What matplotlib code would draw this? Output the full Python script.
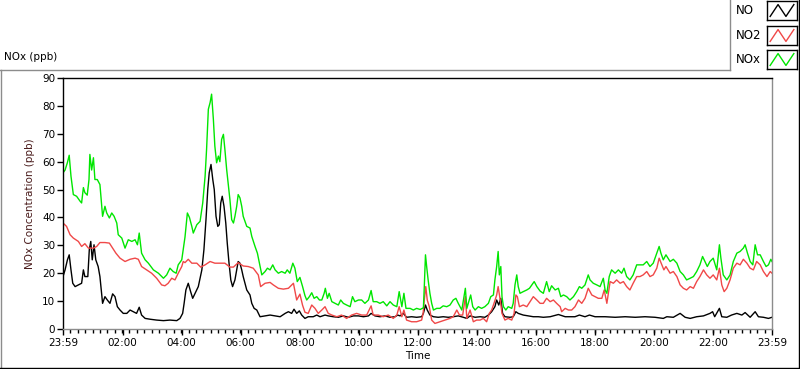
import numpy as np
import matplotlib
matplotlib.use("Agg")
import matplotlib.pyplot as plt
from matplotlib.lines import Line2D

plt.rcParams['font.family'] = ['DejaVu Sans']

# time axis: hours after 23:59 of the previous day
t_nox = [0.00, 0.07, 0.15, 0.21, 0.27, 0.35, 0.46, 0.58, 0.63, 0.69, 0.74, 0.82, 0.88, 0.91, 0.97,
         1.03, 1.08, 1.16, 1.25, 1.31, 1.34, 1.42, 1.48, 1.57, 1.65, 1.73, 1.82, 1.87, 1.99, 2.10,
         2.21, 2.33, 2.44, 2.52, 2.58, 2.66, 2.78, 2.89, 3.06, 3.23, 3.40, 3.51, 3.62, 3.73, 3.83,
         3.90, 4.02, 4.13, 4.21, 4.28, 4.36, 4.41, 4.53, 4.64, 4.73, 4.81, 4.86, 4.92, 4.98, 5.03,
         5.09, 5.14, 5.20, 5.26, 5.31, 5.37, 5.43, 5.48, 5.54, 5.60, 5.65, 5.71, 5.77, 5.82, 5.88,
         5.93, 5.99, 6.05, 6.10, 6.22, 6.33, 6.39, 6.50, 6.58, 6.67, 6.73, 6.84, 6.92, 7.01, 7.10,
         7.18, 7.29, 7.40, 7.52, 7.59, 7.68, 7.78, 7.85, 7.93, 8.02, 8.11, 8.19, 8.25, 8.34, 8.42,
         8.50, 8.59, 8.68, 8.76, 8.84, 8.88, 8.95, 9.01, 9.10, 9.21, 9.32, 9.40, 9.49, 9.60, 9.72,
         9.80, 9.88, 10.00, 10.11, 10.22, 10.34, 10.43, 10.50, 10.62, 10.73, 10.84, 10.96, 11.07,
         11.18, 11.30, 11.38, 11.47, 11.54, 11.61, 11.75, 11.86, 11.97, 12.09, 12.20, 12.23, 12.27,
         12.31, 12.36, 12.42, 12.48, 12.54, 12.65, 12.76, 12.87, 12.99, 13.10, 13.21, 13.30, 13.38,
         13.50, 13.62, 13.67, 13.72, 13.80, 13.87, 13.95, 14.06, 14.17, 14.28, 14.40, 14.48, 14.57,
         14.62, 14.68, 14.73, 14.77, 14.82, 14.86, 14.91, 14.99, 15.07, 15.19, 15.24, 15.30, 15.36,
         15.41, 15.47, 15.58, 15.70, 15.79, 15.87, 15.95, 16.04, 16.15, 16.26, 16.37, 16.46, 16.54,
         16.66, 16.77, 16.85, 16.94, 17.05, 17.16, 17.28, 17.39, 17.48, 17.56, 17.67, 17.78, 17.84,
         17.95, 18.07, 18.18, 18.29, 18.35, 18.41, 18.49, 18.57, 18.69, 18.80, 18.91, 18.99, 19.08,
         19.19, 19.30, 19.42, 19.53, 19.64, 19.76, 19.87, 19.98, 20.10, 20.18, 20.24, 20.32, 20.41,
         20.55, 20.66, 20.78, 20.89, 21.00, 21.11, 21.23, 21.34, 21.45, 21.56, 21.65, 21.73, 21.81,
         21.90, 22.01, 22.13, 22.22, 22.27, 22.35, 22.47, 22.58, 22.69, 22.81, 22.92, 23.03, 23.09,
         23.17, 23.26, 23.35, 23.43, 23.51, 23.60, 23.71, 23.80, 23.88, 23.96, 24.00]
nox = [56.0, 57.0, 59.7, 62.3, 54.8, 48.2, 47.6, 45.8, 45.2, 50.7, 48.9, 48.0, 53.6, 62.6, 57.0,
       61.4, 53.6, 53.6, 51.8, 44.0, 40.4, 44.0, 41.6, 39.8, 41.6, 40.4, 38.0, 33.8, 32.6, 29.0,
       32.0, 31.4, 32.0, 30.2, 34.4, 27.2, 24.8, 23.6, 21.2, 20.0, 18.2, 19.4, 21.8, 20.6, 20.0,
       23.0, 24.8, 33.0, 41.6, 40.0, 36.8, 34.4, 37.4, 38.6, 45.2, 54.8, 64.4, 78.8, 81.2, 84.2,
       75.2, 65.6, 59.6, 62.0, 60.0, 68.0, 69.8, 64.4, 57.2, 51.2, 46.4, 39.2, 38.0, 40.4, 44.0,
       48.2, 47.0, 44.0, 40.4, 36.8, 36.2, 33.2, 29.6, 27.2, 22.4, 19.4, 20.6, 21.8, 21.2, 23.0,
       21.2, 20.0, 20.6, 20.0, 21.2, 20.0, 23.6, 21.8, 17.0, 18.5, 15.2, 12.0, 10.4, 11.6, 13.0,
       11.0, 11.6, 10.4, 10.4, 12.8, 14.6, 11.0, 12.8, 9.8, 9.2, 8.6, 10.4, 9.2, 8.6, 8.0,
       11.6, 9.8, 10.4, 10.4, 9.2, 10.4, 13.8, 9.8, 9.8, 9.2, 9.8, 8.3, 9.8,
       8.6, 8.0, 13.4, 8.0, 12.8, 7.4, 7.4, 6.8, 7.4, 7.0, 7.6, 15.2, 26.6,
       22.4, 17.6, 12.8, 9.2, 6.8, 7.4, 7.4, 8.3, 8.0, 8.6, 10.4, 11.0, 9.2,
       6.8, 14.6, 7.4, 9.2, 12.2, 8.0, 6.8, 8.0, 7.4, 8.0, 9.2, 11.6, 12.2,
       17.6, 22.4, 27.8, 19.4, 22.4, 11.6, 8.0, 6.8, 8.0, 7.4, 9.2, 15.8, 19.4,
       15.2, 12.8, 13.4, 14.0, 14.6, 15.8, 17.0, 15.2, 13.6, 12.8, 17.0, 13.4, 15.5,
       14.0, 14.6, 11.6, 12.2, 11.6, 10.4, 11.6, 13.4, 15.2, 14.6, 15.8, 19.4, 17.6,
       16.4, 15.8, 15.2, 18.2, 14.0, 12.8, 18.8, 21.2, 20.0, 21.2, 20.0, 21.8, 18.8,
       17.6, 19.4, 23.0, 23.0, 23.0, 24.2, 22.4, 23.6, 27.2, 29.6, 27.2, 24.8, 26.6,
       24.2, 25.0, 23.6, 20.6, 19.4, 17.6, 18.2, 18.8, 20.6, 23.0, 26.0, 24.2, 22.4,
       24.2, 25.4, 21.2, 30.2, 25.4, 19.4, 17.6, 19.4, 24.2, 27.2, 27.8, 29.0, 30.2,
       27.2, 24.2, 23.0, 30.2, 26.6, 26.6, 24.2, 22.4, 23.0, 25.0, 24.2]

t_no2 = [0.00, 0.12, 0.24, 0.35, 0.52, 0.63, 0.74, 0.86, 1.03, 1.14, 1.25, 1.42, 1.57, 1.68, 1.79,
         1.93, 2.10, 2.27, 2.44, 2.55, 2.66, 2.83, 3.00, 3.17, 3.34, 3.45, 3.56, 3.68, 3.79, 3.90,
         4.02, 4.07, 4.13, 4.24, 4.36, 4.53, 4.66, 4.81, 4.98, 5.14, 5.31, 5.48, 5.65, 5.77, 5.93,
         6.10, 6.27, 6.44, 6.61, 6.69, 6.84, 7.01, 7.12, 7.29, 7.46, 7.63, 7.80, 7.91, 8.02, 8.11,
         8.19, 8.30, 8.42, 8.53, 8.64, 8.76, 8.87, 8.98, 9.10, 9.27, 9.43, 9.60, 9.77, 9.94, 10.11,
         10.28, 10.43, 10.50, 10.67, 10.84, 11.01, 11.18, 11.30, 11.38, 11.47, 11.54, 11.63, 11.80,
         11.97, 12.14, 12.19, 12.23, 12.28, 12.33, 12.40, 12.48, 12.59, 12.76, 12.93, 13.10, 13.21,
         13.33, 13.42, 13.53, 13.62, 13.67, 13.78, 13.89, 14.00, 14.12, 14.23, 14.34, 14.43, 14.51,
         14.59, 14.68, 14.73, 14.80, 14.86, 14.96, 15.07, 15.19, 15.27, 15.33, 15.38, 15.45, 15.58,
         15.70, 15.81, 15.92, 16.04, 16.15, 16.26, 16.37, 16.49, 16.60, 16.71, 16.83, 16.88, 17.00,
         17.11, 17.22, 17.33, 17.45, 17.56, 17.67, 17.78, 17.90, 18.01, 18.12, 18.24, 18.32, 18.41,
         18.52, 18.63, 18.74, 18.86, 18.97, 19.08, 19.19, 19.30, 19.42, 19.53, 19.64, 19.76, 19.87,
         19.98, 20.10, 20.18, 20.27, 20.34, 20.41, 20.55, 20.66, 20.78, 20.89, 21.00, 21.11, 21.23,
         21.34, 21.45, 21.56, 21.68, 21.79, 21.90, 22.01, 22.13, 22.22, 22.30, 22.38, 22.47, 22.58,
         22.69, 22.81, 22.92, 23.03, 23.15, 23.26, 23.37, 23.48, 23.60, 23.71, 23.83, 23.94, 24.00]
no2 = [38.0, 36.8, 33.8, 32.6, 31.4, 29.6, 30.6, 29.0, 29.0, 29.6, 31.0, 31.0, 30.8, 29.0, 27.2,
       25.4, 24.2, 25.0, 25.4, 25.0, 22.4, 21.2, 20.0, 18.2, 15.8, 15.5, 16.4, 18.2, 17.6, 20.0,
       22.4, 24.2, 23.8, 25.0, 23.6, 23.6, 22.2, 23.0, 24.2, 23.6, 23.6, 23.6, 22.2, 22.2, 23.8,
       22.6, 22.4, 21.8, 19.4, 15.2, 16.4, 16.7, 15.8, 14.6, 14.3, 14.6, 16.4, 10.4, 12.5, 8.5,
       6.0, 5.6, 8.6, 7.4, 5.6, 6.8, 8.0, 5.6, 5.0, 4.4, 5.0, 3.8, 5.0, 5.6, 5.0,
       5.0, 8.3, 5.0, 5.0, 4.4, 5.0, 3.8, 5.0, 8.0, 4.4, 6.8, 3.2, 2.6,
       2.6, 3.2, 5.6, 10.4, 15.2, 10.4, 8.0, 3.2, 2.0, 2.6, 3.2, 3.8, 4.4,
       6.8, 5.0, 5.0, 11.6, 3.8, 6.8, 2.6, 3.2, 3.2, 3.8, 2.6, 5.6, 6.8,
       9.2, 12.2, 15.2, 10.4, 5.6, 3.2, 3.8, 3.2, 5.6, 12.2, 11.6, 8.0, 8.6,
       8.0, 9.8, 11.6, 10.4, 9.2, 9.2, 11.0, 9.8, 10.4, 9.2, 8.0, 6.2, 7.4,
       6.8, 6.8, 8.0, 10.4, 9.2, 11.0, 14.6, 12.2, 11.6, 11.0, 11.0, 14.0, 9.2,
       17.0, 16.4, 17.6, 16.4, 17.0, 15.2, 14.0, 16.4, 18.8, 18.8, 19.4, 20.6, 18.8,
       19.4, 21.8, 25.4, 23.0, 21.2, 22.4, 20.0, 20.6, 18.8, 15.8, 14.6, 14.0, 15.2,
       14.6, 17.0, 18.8, 21.2, 19.4, 18.2, 19.4, 17.6, 21.8, 15.8, 13.4, 14.6, 17.6,
       21.8, 23.6, 23.0, 25.0, 23.6, 21.8, 21.2, 24.2, 23.0, 20.6, 18.8, 20.6, 20.0]

t_no = [0.00, 0.07, 0.15, 0.21, 0.27, 0.33, 0.41, 0.52, 0.63, 0.69, 0.74, 0.84, 0.89, 0.94, 0.99,
        1.05, 1.11, 1.19, 1.25, 1.30, 1.34, 1.42, 1.50, 1.59, 1.68, 1.76, 1.84, 1.93, 2.04, 2.16,
        2.27, 2.38, 2.49, 2.58, 2.66, 2.78, 2.95, 3.17, 3.40, 3.62, 3.85, 3.96, 4.05, 4.10, 4.16,
        4.24, 4.32, 4.39, 4.47, 4.58, 4.70, 4.77, 4.84, 4.90, 4.95, 5.01, 5.07, 5.12, 5.18, 5.24,
        5.29, 5.34, 5.39, 5.45, 5.51, 5.56, 5.62, 5.68, 5.74, 5.82, 5.88, 5.93, 5.99, 6.05, 6.10,
        6.22, 6.33, 6.39, 6.47, 6.56, 6.67, 6.84, 7.01, 7.18, 7.35, 7.52, 7.63, 7.74, 7.82, 7.91,
        8.00, 8.08, 8.19, 8.30, 8.47, 8.59, 8.70, 8.87, 8.98, 9.15, 9.32, 9.49, 9.66, 9.83, 10.00,
        10.17, 10.34, 10.43, 10.56, 10.73, 10.90, 11.07, 11.24, 11.33, 11.41, 11.52, 11.63, 11.80,
        11.97, 12.14, 12.20, 12.27, 12.33, 12.42, 12.54, 12.70, 12.87, 13.04, 13.21, 13.38, 13.55,
        13.67, 13.78, 13.95, 14.12, 14.28, 14.40, 14.51, 14.62, 14.68, 14.75, 14.82, 14.88, 14.96,
        15.13, 15.24, 15.33, 15.41, 15.58, 15.75, 15.92, 16.09, 16.26, 16.49, 16.77, 17.00, 17.33,
        17.48, 17.67, 17.82, 18.01, 18.35, 18.69, 19.03, 19.37, 19.70, 20.04, 20.32, 20.44, 20.66,
        20.89, 21.06, 21.23, 21.45, 21.68, 21.90, 21.99, 22.06, 22.22, 22.30, 22.47, 22.63, 22.81,
        22.98, 23.09, 23.26, 23.43, 23.54, 23.71, 23.88, 24.00]
no = [18.8, 21.2, 24.8, 26.6, 21.2, 16.4, 15.2, 15.8, 16.4, 21.2, 18.8, 18.8, 28.4, 31.4, 24.8,
      30.2, 24.8, 22.4, 18.8, 13.4, 9.2, 11.6, 10.4, 9.2, 12.6, 11.6, 8.0, 6.8, 5.6, 5.6,
      6.8, 6.2, 5.6, 7.8, 5.0, 3.8, 3.5, 3.2, 3.0, 3.2, 3.0, 3.8, 5.6, 9.2, 14.0,
      16.4, 13.4, 11.0, 12.8, 15.2, 21.2, 28.4, 39.2, 50.0, 56.0, 59.0, 53.6, 50.0, 40.4, 36.8,
      37.4, 45.2, 47.6, 44.0, 38.0, 30.8, 23.6, 17.6, 15.2, 17.6, 21.2, 24.2, 23.6, 21.2, 18.8,
      14.0, 12.2, 9.2, 7.4, 6.8, 4.4, 4.7, 5.0, 4.7, 4.4, 5.6, 6.2, 5.6, 7.1, 5.6,
      6.5, 5.0, 3.8, 4.4, 4.4, 5.0, 4.4, 5.0, 4.7, 4.4, 4.2, 4.7, 4.2, 4.7, 4.7,
      4.4, 4.7, 5.6, 4.7, 4.4, 4.7, 4.2, 4.4, 5.0, 4.7, 5.6, 4.2, 4.4,
      4.2, 4.4, 5.6, 8.6, 6.8, 5.0, 4.4, 4.2, 4.4, 4.2, 4.4, 4.7, 4.2,
      3.8, 4.7, 4.2, 4.4, 4.2, 5.0, 6.2, 8.0, 10.4, 8.6, 11.0, 5.6, 4.4,
      4.2, 4.4, 6.2, 5.6, 5.0, 4.7, 4.4, 4.4, 4.2, 4.4, 5.2, 4.4, 4.4,
      5.0, 4.4, 5.0, 4.4, 4.4, 4.2, 4.4, 4.2, 4.4, 4.2, 3.8, 4.4, 4.2,
      5.6, 4.2, 3.8, 4.4, 4.7, 5.6, 6.2, 4.4, 7.4, 4.4, 4.2, 5.0, 5.6,
      5.0, 5.9, 4.2, 6.2, 4.4, 4.2, 3.8, 4.2]

tick_labels = ['23:59', '02:00', '04:00', '06:00', '08:00', '10:00', '12:00',
               '14:00', '16:00', '18:00', '20:00', '22:00', '23:59']
tick_pos = [0] + [h + 1 / 60 for h in range(2, 24, 2)] + [24]

W, H = 800, 369
fig = plt.figure(figsize=(8, 3.69), dpi=100)


def fx(px):
    return px / W


def fy(py):
    return (H - py) / H


ax = fig.add_axes([fx(63), fy(329), fx(772) - fx(63), fy(78) - fy(329)])
ax.plot(t_no, no, color='black', lw=1.0)
ax.plot(t_no2, no2, color='#f04848', lw=1.0)
ax.plot(t_nox, nox, color='#00e600', lw=1.0)

ax.set_xlim(0, 24)
ax.set_ylim(0, 90)
ax.set_yticks(range(0, 91, 10))
ax.set_xticks(tick_pos)
ax.set_xticklabels(tick_labels)
ax.set_xticks(np.arange(0, 24.01, 0.25), minor=True)
ax.tick_params(axis='y', direction='out', length=4.5, width=1, labelsize=7.5, pad=1)
ax.tick_params(axis='x', which='major', direction='out', length=4.5, width=1, labelsize=7.5, pad=2)
ax.tick_params(axis='x', which='minor', direction='out', length=3, width=1)
ax.spines['left'].set_color('black')
ax.spines['top'].set_color('black')
ax.spines['bottom'].set_color('#8c8c8c')
ax.spines['right'].set_color('#8c8c8c')
for s in ax.spines.values():
    s.set_linewidth(1)
ax.set_xlabel('Time', fontsize=7.5, labelpad=2)
ax.set_ylabel('NOx Concentration (ppb)', fontsize=7.5, color='#4a1c1c')
ax.yaxis.set_label_coords(-0.039, 0.5)

# panel title
fig.text(fx(4), fy(57), 'NOx (ppb)', fontsize=7.5, va='center', ha='left')

# panel frame
gray = '#8c8c8c'
fig.add_artist(Line2D([fx(0), fx(730)], [fy(70), fy(70)], color=gray, lw=1))
fig.add_artist(Line2D([fx(730), fx(730)], [fy(70), fy(0)], color=gray, lw=1))
fig.add_artist(Line2D([fx(0.5), fx(0.5)], [fy(70), fy(368)], color=gray, lw=1))
fig.add_artist(Line2D([fx(0), fx(800)], [fy(367.5), fy(367.5)], color='black', lw=1))
fig.add_artist(Line2D([fx(798.5), fx(798.5)], [fy(0), fy(369)], color='black', lw=1))

# legend
leg_names = ['NO', 'NO2', 'NOx']
leg_colors = ['black', '#f04848', '#00e600']
leg_y = [[1, 20], [26, 45], [50, 69]]
for name, c, (y0, y1) in zip(leg_names, leg_colors, leg_y):
    fig.text(fx(736), fy((y0 + y1) / 2), name, fontsize=8.5, va='center', ha='left')
    sw = fig.add_axes([fx(767), fy(y1), fx(797) - fx(767), fy(y0) - fy(y1)])
    sw.plot([0, 1, 2, 3], [0, 1, 0, 1], color=c, lw=1)
    sw.set_xlim(-0.4, 3.4)
    sw.set_ylim(-0.3, 1.3)
    sw.set_xticks([])
    sw.set_yticks([])
    for s in sw.spines.values():
        s.set_color('black')
        s.set_linewidth(1)

fig.savefig('out.png', dpi=100)
